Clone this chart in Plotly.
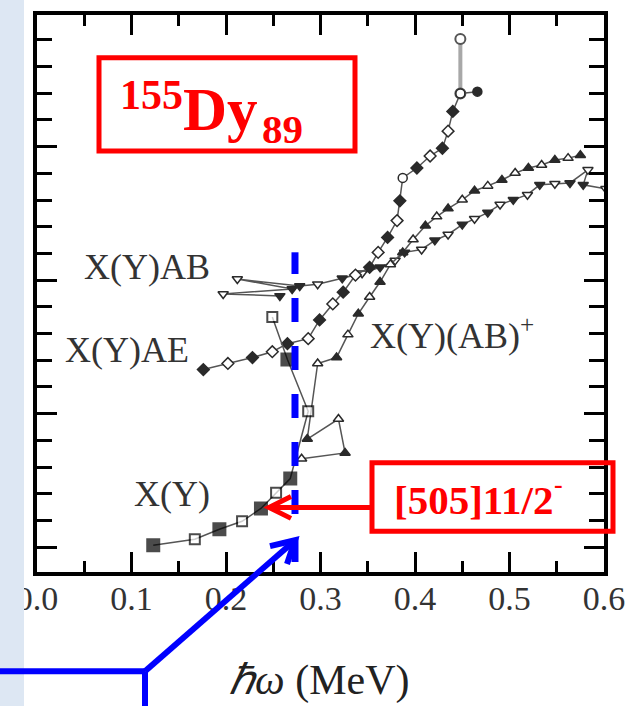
import plotly.graph_objects as go

# ---------------- data (hbar*omega in MeV, aligned spin in arbitrary units) ----------------
xy_w = [0.123, 0.167, 0.193, 0.217, 0.237, 0.253, 0.268, 0.287, 0.265, 0.249]
xy_i = [0.07, 0.30, 0.67, 0.97, 1.45, 2.04, 2.57, 5.09, 7.03, 8.62]
xy_open = [0, 1, 0, 1, 0, 1, 0, 1, 0, 1]

ab_w = [0.257, 0.197, 0.270, 0.212, 0.278, 0.297, 0.323, 0.344, 0.363, 0.379, 0.389, 0.407,
        0.421, 0.435, 0.450, 0.463, 0.477, 0.490, 0.504, 0.519, 0.532, 0.548, 0.564, 0.583,
        0.578, 0.602]
ab_i = [9.41, 9.48, 9.67, 10.04, 9.78, 9.85, 10.07, 10.26, 10.48, 10.74, 11.04, 11.15,
        11.49, 11.71, 12.08, 12.30, 12.53, 12.83, 13.01, 13.20, 13.57, 13.61, 13.64, 14.13,
        13.57, 13.42]

abp_w = [0.280, 0.326, 0.319, 0.286, 0.297, 0.317, 0.329, 0.340, 0.352, 0.363, 0.374, 0.387,
         0.398, 0.411, 0.423, 0.435, 0.450, 0.463, 0.477, 0.492, 0.506, 0.520, 0.534, 0.548,
         0.562, 0.575]
abp_i = [3.31, 3.53, 4.80, 4.05, 6.88, 7.10, 7.96, 8.74, 9.37, 9.93, 10.59, 11.04,
         11.52, 12.04, 12.38, 12.68, 13.01, 13.35, 13.53, 13.75, 14.01, 14.20, 14.31, 14.50,
         14.57, 14.68]

ae_w = [0.176, 0.202, 0.228, 0.249, 0.265, 0.287, 0.299, 0.313, 0.324, 0.337, 0.352, 0.361,
        0.371, 0.381, 0.384, 0.387, 0.402, 0.416, 0.429, 0.435, 0.440, 0.448, 0.466]
ae_i = [6.65, 6.88, 7.10, 7.32, 7.62, 7.81, 8.51, 9.11, 9.55, 10.19, 10.48, 11.04,
        11.60, 12.23, 12.97, 13.83, 14.20, 14.65, 14.94, 15.58, 16.32, 16.99, 17.06]

ext_w = [0.448, 0.448]
ext_i = [16.99, 19.03]

x_ticks = [0.0, 0.1, 0.2, 0.3, 0.4, 0.5, 0.6]
x_tick_text = ["0.0", "0.1", "0.2", "0.3", "0.4", "0.5", "0.6"]
band_labels = ["X(Y)AB", "X(Y)AE", "X(Y)(AB)<sup>+</sup>", "X(Y)"]
band_label_w = [0.048, 0.028, 0.350, 0.100]
band_label_i = [10.48, 7.40, 7.99, 2.00]
crossing_w = 0.273

# ---------------- layout geometry (pixels) ----------------
W, H = 641, 706
L, R, T, B = 37, 604, 11, 572
PW, PH = R - L, B - T


def px(x):
    return (x - L) / PW


def py(y):
    return (B - y) / PH


SERIF = "Liberation Serif, Times New Roman, serif"
DARK = "#2a2a2a"
LINE = "#555555"

fig = go.Figure()


def alt_colors(n, start_open=0):
    return ["white" if (k + start_open) % 2 else DARK for k in range(n)]


fig.add_trace(go.Scatter(x=ext_w, y=ext_i, mode="lines+markers",
                         line=dict(color="#a8a8a8", width=4),
                         marker=dict(symbol="circle", size=10, color="white",
                                     line=dict(color="#555555", width=2)),
                         showlegend=False))
fig.add_trace(go.Scatter(
    x=ab_w, y=ab_i, mode="lines+markers", line=dict(color=LINE, width=1.5),
    marker=dict(symbol="triangle-down", size=9, color=alt_colors(len(ab_w)),
                line=dict(color=DARK, width=1.5)), showlegend=False))
fig.add_trace(go.Scatter(
    x=abp_w, y=abp_i, mode="lines+markers", line=dict(color=LINE, width=1.5),
    marker=dict(symbol="triangle-up", size=9, color=alt_colors(len(abp_w), 1),
                line=dict(color=DARK, width=1.5)), showlegend=False))
ae_sym = ["diamond"] * len(ae_w)
ae_sym[15] = "circle"
ae_sym[-2] = "circle"
ae_sym[-1] = "circle"
ae_col = alt_colors(len(ae_w))
ae_col[-2] = "white"
ae_col[-1] = DARK
fig.add_trace(go.Scatter(
    x=ae_w, y=ae_i, mode="lines+markers", line=dict(color=LINE, width=1.5),
    marker=dict(symbol=ae_sym, size=9, color=ae_col,
                line=dict(color=DARK, width=1.5)), showlegend=False))
fig.add_trace(go.Scatter(
    x=xy_w, y=xy_i, mode="lines+markers", line=dict(color=LINE, width=1.5),
    marker=dict(symbol="square", size=[12 if o == 0 else 10 for o in xy_open],
                color=["white" if o else "black" for o in xy_open],
                line=dict(color="black", width=2)), showlegend=False))

shapes = []
# blue dashed crossing line
shapes.append(dict(type="line", xref="x", yref="paper", x0=crossing_w, x1=crossing_w,
                   y0=py(562), y1=py(250), line=dict(color="#0000ff", width=7, dash="24px,24px"),
                   layer="above"))
# light blue strip
shapes.append(dict(type="rect", xref="paper", yref="paper", x0=px(-5), x1=px(24),
                   y0=py(H + 5), y1=py(-5), fillcolor="#dde7f3", line=dict(width=0),
                   layer="above"))
# red boxes
shapes.append(dict(type="rect", xref="paper", yref="paper", x0=px(99), x1=px(355),
                   y0=py(148), y1=py(54), line=dict(color="#ff0000", width=5), layer="above"))
shapes.append(dict(type="rect", xref="paper", yref="paper", x0=px(372), x1=px(613),
                   y0=py(531), y1=py(462), line=dict(color="#ff0000", width=5), layer="above"))
# red arrow
shapes.append(dict(type="line", xref="paper", yref="paper", x0=px(370), x1=px(270),
                   y0=py(507), y1=py(507), line=dict(color="#ff0000", width=5), layer="above"))
shapes.append(dict(type="path", xref="paper", yref="paper",
                   path=f"M {px(291)} {py(496)} L {px(269)} {py(507)} L {px(291)} {py(518)}",
                   line=dict(color="#ff0000", width=5), layer="above"))
# blue arrow
shapes.append(dict(type="line", xref="paper", yref="paper", x0=px(-5), x1=px(145),
                   y0=py(672), y1=py(672), line=dict(color="#0000ff", width=6), layer="above"))
shapes.append(dict(type="line", xref="paper", yref="paper", x0=px(145), x1=px(145),
                   y0=py(672), y1=py(H + 5), line=dict(color="#0000ff", width=6), layer="above"))
shapes.append(dict(type="line", xref="paper", yref="paper", x0=px(145), x1=px(294),
                   y0=py(672), y1=py(541), line=dict(color="#0000ff", width=6), layer="above"))
shapes.append(dict(type="path", xref="paper", yref="paper",
                   path=f"M {px(270)} {py(546)} L {px(295)} {py(540)} L {px(287)} {py(564)}",
                   line=dict(color="#0000ff", width=6), layer="above"))

annotations = []
for txt, w, i in zip(band_labels, band_label_w, band_label_i):
    annotations.append(dict(x=w, y=i, xref="x", yref="y", text=txt, showarrow=False,
                            font=dict(family=SERIF, size=36, color="#333333"),
                            xanchor="left", yanchor="middle"))
# nucleus label
annotations.append(dict(x=px(151), y=py(92), xref="paper", yref="paper", text="<b>155</b>",
                        showarrow=False, font=dict(family=SERIF, size=42, color="#ff0000"),
                        xanchor="center", yanchor="middle"))
annotations.append(dict(x=px(220), y=py(106), xref="paper", yref="paper", text="<b>Dy</b>",
                        showarrow=False, font=dict(family=SERIF, size=61, color="#ff0000"),
                        xanchor="center", yanchor="middle"))
annotations.append(dict(x=px(282), y=py(126), xref="paper", yref="paper", text="<b>89</b>",
                        showarrow=False, font=dict(family=SERIF, size=41, color="#ff0000"),
                        xanchor="center", yanchor="middle"))
annotations.append(dict(x=px(473), y=py(499), xref="paper", yref="paper", text="<b>[505]11/2</b>",
                        showarrow=False, font=dict(family=SERIF, size=41, color="#ff0000"),
                        xanchor="center", yanchor="middle"))
annotations.append(dict(x=px(558), y=py(484), xref="paper", yref="paper", text="<b>-</b>",
                        showarrow=False, font=dict(family=SERIF, size=26, color="#ff0000"),
                        xanchor="center", yanchor="middle"))
annotations.append(dict(x=px(319), y=py(681), xref="paper", yref="paper",
                        text="<i>ℏω</i> (MeV)", showarrow=False,
                        font=dict(family=SERIF, size=42, color="#222222"),
                        xanchor="center", yanchor="middle"))

axis_common = dict(showline=True, linewidth=4, linecolor="black", mirror="allticks",
                   ticks="inside", ticklen=20, tickwidth=3, tickcolor="black",
                   showgrid=False, zeroline=False)

fig.update_layout(
    width=W, height=H, margin=dict(l=L, r=W - R, t=T, b=H - B),
    paper_bgcolor="white", plot_bgcolor="white", showlegend=False,
    xaxis=dict(range=[0, 0.6], tickvals=x_ticks, ticktext=x_tick_text,
               tickfont=dict(family=SERIF, size=34, color="#333333"),
               ticklabelstandoff=-7,
               minor=dict(dtick=0.05, ticklen=11, tickwidth=3, tickcolor="black", ticks="inside"),
               **axis_common),
    yaxis=dict(range=[-0.93, 19.93], tick0=0, dtick=5, showticklabels=False,
               minor=dict(dtick=1, ticklen=15, tickwidth=3, tickcolor="black", ticks="inside"),
               **axis_common),
    shapes=shapes, annotations=annotations,
)

fig.write_html("out.html")
